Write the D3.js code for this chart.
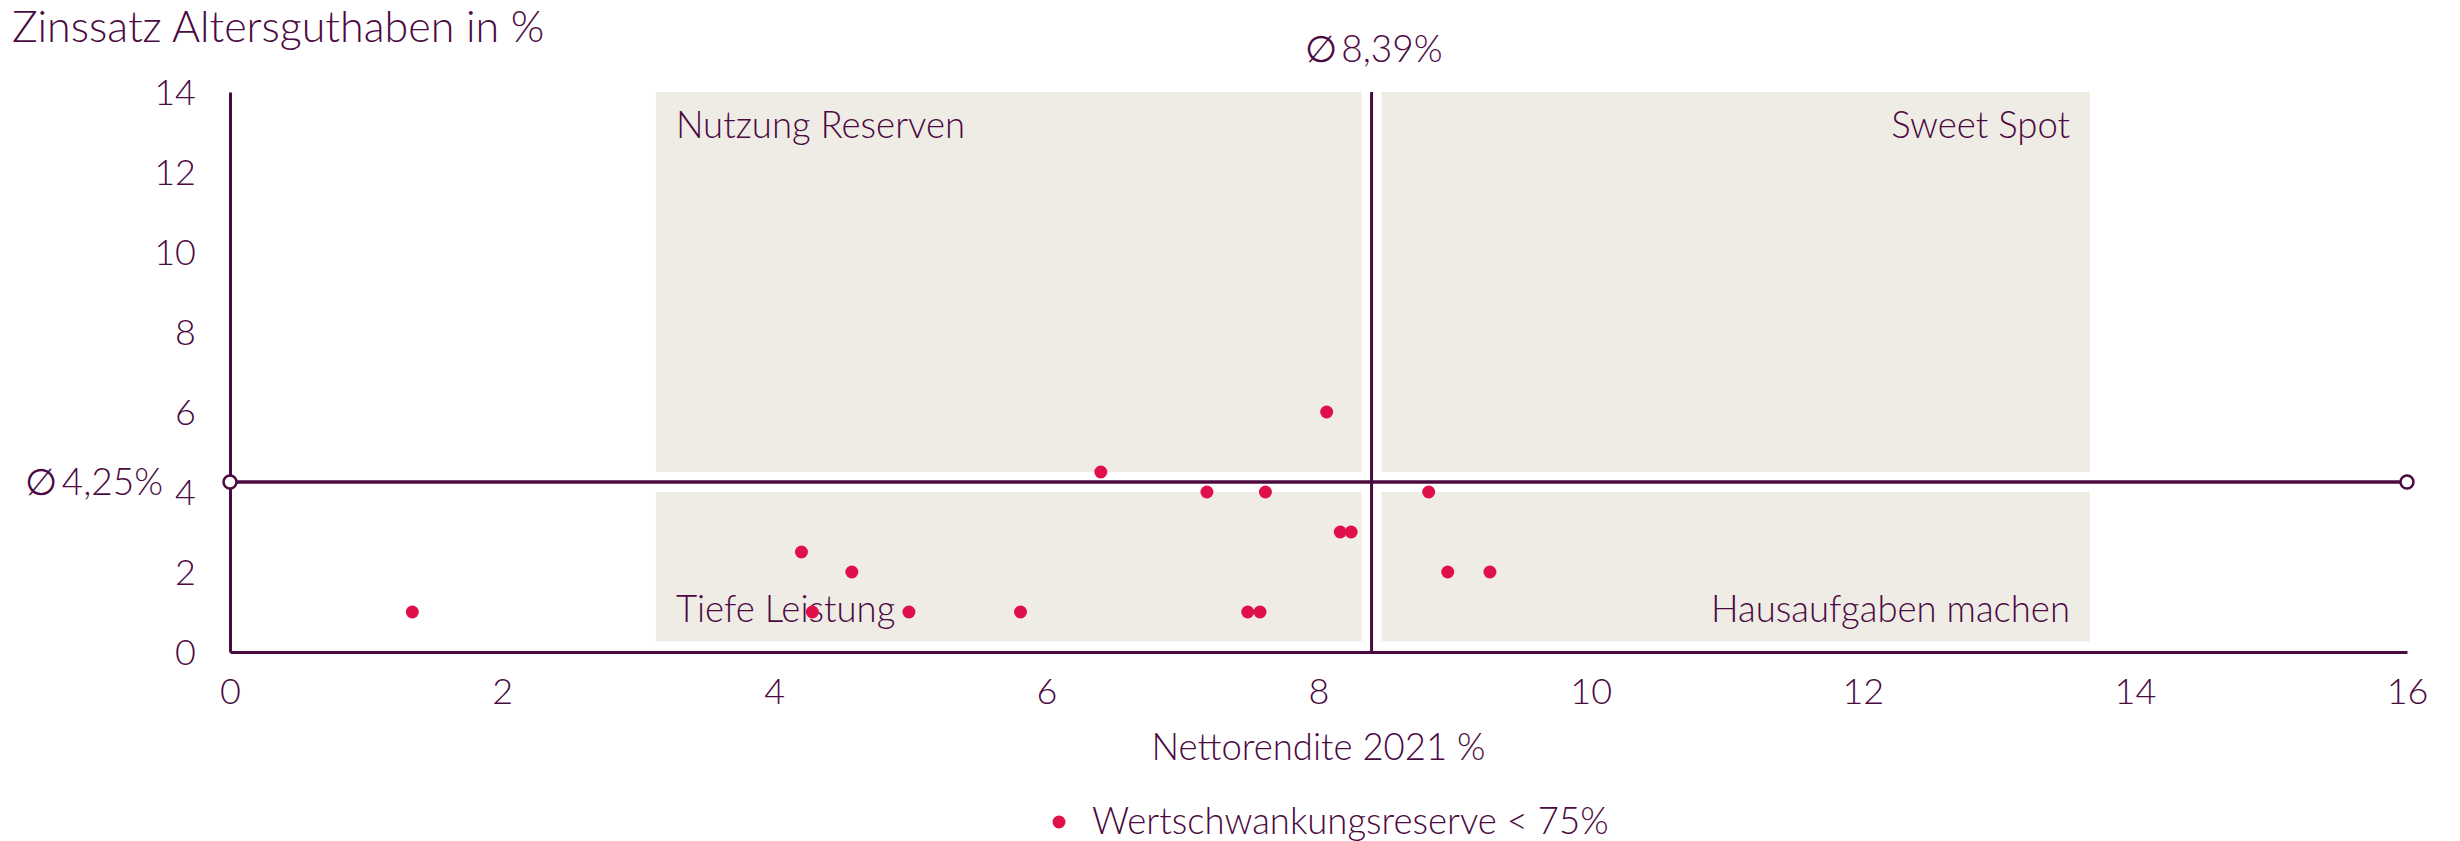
<!DOCTYPE html>
<html>
<head>
<meta charset="utf-8">
<script src="https://cdn.jsdelivr.net/npm/d3@7"></script>
<style>
  body { margin: 0; background: #fff; }
  text { font-family: Lato, "Open Sans", sans-serif; font-weight: 300; fill: #4b0a41; }
</style>
</head>
<body>
<svg id="container" width="2460" height="841"></svg>
<script>
// data
var netReturn    = [1.34, 4.20, 4.28, 4.57, 4.99, 5.81, 6.40, 7.18, 7.48, 7.57, 7.61, 8.06, 8.16, 8.24, 8.81, 8.95, 9.26]; // Nettorendite 2021 %
var interestRate = [1.0,  2.5,  1.0,  2.0,  1.0,  1.0,  4.5,  4.0,  1.0,  1.0,  4.0,  6.0,  3.0,  3.0,  4.0,  2.0,  2.0];  // Zinssatz Altersguthaben %
var xTicks = [0, 2, 4, 6, 8, 10, 12, 14, 16];
var yTicks = [0, 2, 4, 6, 8, 10, 12, 14];
var avgReturn = 8.39;
var avgRate = 4.25;
var quadrantNames = ['Nutzung Reserven', 'Sweet Spot', 'Tiefe Leistung', 'Hausaufgaben machen'];
var quadrantExtentX = [3.13, 13.67];
var quadrantExtentY = [0.27, 14];

var dark = '#4b0a41', red = '#e0104a', beige = '#efece6';

var svg = d3.select('#container');

// scales
var x = d3.scaleLinear().domain([0, 16]).range([230, 2407]);
var y = d3.scaleLinear().domain([0, 14]).range([652, 92]);
var gap = 10; // white gap around the average lines

// quadrant boxes
var boxes = [
  {x0: x(quadrantExtentX[0]), x1: x(avgReturn) - gap, y0: y(quadrantExtentY[1]), y1: y(avgRate) - gap},
  {x0: x(avgReturn) + gap,    x1: x(quadrantExtentX[1]), y0: y(quadrantExtentY[1]), y1: y(avgRate) - gap},
  {x0: x(quadrantExtentX[0]), x1: x(avgReturn) - gap, y0: y(avgRate) + gap, y1: y(quadrantExtentY[0])},
  {x0: x(avgReturn) + gap,    x1: x(quadrantExtentX[1]), y0: y(avgRate) + gap, y1: y(quadrantExtentY[0])}
];
svg.append('g').selectAll('rect')
    .data(boxes)
  .enter().append('rect')
    .attr('x', d => d.x0)
    .attr('y', d => d.y0)
    .attr('width', d => d.x1 - d.x0)
    .attr('height', d => d.y1 - d.y0)
    .style('fill', beige);

//quadrant labels
svg.append('g').selectAll('text')
    .data(boxes)
  .enter().append('text')
    .attr('x', (d, i) => i % 2 == 0 ? d.x0 + 20 : d.x1 - 20)
    .attr('y', (d, i) => i < 2 ? d.y0 + 46 : d.y1 - 19)
    .attr('text-anchor', (d, i) => i % 2 == 0 ? 'start' : 'end')
    .style('font-size', '36.5px')
    .text((d, i) => quadrantNames[i]);

// axes
var xAxis = svg.append('g')
    .attr('transform', `translate(0, ${y(0)})`)
    .call(d3.axisBottom(x).tickValues(xTicks).tickSize(0).tickPadding(26));
var yAxis = svg.append('g')
    .attr('transform', `translate(${x(0)}, 0)`)
    .call(d3.axisLeft(y).tickValues(yTicks).tickSize(0).tickPadding(34));
[xAxis, yAxis].forEach(function(a){
  a.select('.domain').attr('stroke', dark).attr('stroke-width', 3);
  a.selectAll('text').style('font-size', '36px').style('fill', dark)
      .style('font-family', 'Lato, sans-serif').style('font-weight', 300);
});
xAxis.selectAll('text').attr('dy', '0.71em');
yAxis.selectAll('text').attr('dy', '0.36em');

// average lines
svg.append('line')
    .attr('x1', x(avgReturn)).attr('x2', x(avgReturn))
    .attr('y1', y(14)).attr('y2', y(0) + 2)
    .attr('stroke', dark).attr('stroke-width', 3);
svg.append('line')
    .attr('x1', x(0)).attr('x2', x(16))
    .attr('y1', y(avgRate)).attr('y2', y(avgRate))
    .attr('stroke', dark).attr('stroke-width', 3.5);
svg.append('g').selectAll('circle')
    .data([0, 16])
  .enter().append('circle')
    .attr('cx', d => x(d))
    .attr('cy', y(avgRate))
    .attr('r', 6.5)
    .style('fill', '#fff')
    .style('stroke', dark)
    .style('stroke-width', 2.5);

// average labels with empty-set style diameter sign
var fmt = d3.format('.2f');
function avgLabel(xPos, yPos, anchor, value){
  var t = svg.append('text')
      .attr('x', xPos)
      .attr('y', yPos)
      .attr('text-anchor', anchor)
      .style('font-size', '37px');
  t.append('tspan').style('font-family', '"DejaVu Sans", sans-serif').style('font-weight', 200).text('\u2205');
  t.append('tspan').text('\u2009' + fmt(value).replace('.', ',') + '%');
}
avgLabel(x(avgReturn) + 2, 62, 'middle', avgReturn);
avgLabel(163, y(avgRate) + 13, 'end', avgRate);

// data points
svg.append('g').selectAll('circle')
    .data(netReturn)
  .enter().append('circle')
    .attr('cx', d => x(d))
    .attr('cy', (d, i) => y(interestRate[i]))
    .attr('r', 6.5)
    .style('fill', red);

// axis titles
svg.append('text')
    .attr('x', 12)
    .attr('y', 42)
    .style('font-size', '43px')
    .text('Zinssatz Altersguthaben in %');
svg.append('text')
    .attr('x', (x(0) + x(16)) / 2)
    .attr('y', 760)
    .attr('text-anchor', 'middle')
    .style('font-size', '36.5px')
    .text('Nettorendite 2021 %');

// legend
svg.append('circle')
    .attr('cx', 1059).attr('cy', 822).attr('r', 6.5)
    .style('fill', red);
svg.append('text')
    .attr('x', 1092)
    .attr('y', 834)
    .style('font-size', '36.5px')
    .text('Wertschwankungsreserve < 75%');
</script>
</body>
</html>
